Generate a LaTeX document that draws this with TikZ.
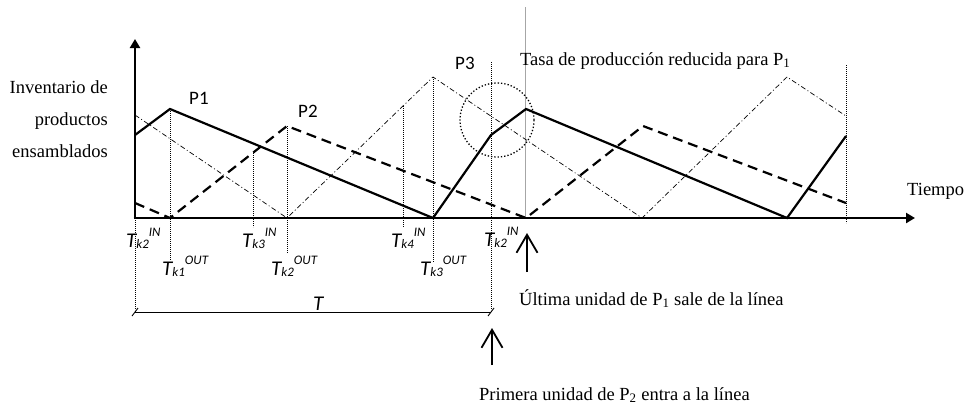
\documentclass[tikz,border=0pt]{standalone}
\usepackage{fontspec}
\setmainfont{Liberation Serif}
\newfontfamily\calibri{Carlito}
\usetikzlibrary{arrows.meta}
\newcommand\mytlab[2]{{\calibri\itshape\fontsize{21}{22}\selectfont T}{\calibri\itshape\fontsize{13}{13}\selectfont\raisebox{-1pt}{#1}\raisebox{11pt}{#2}}}
\begin{document}
\begin{tikzpicture}[x=1pt,y=-1pt,
  axisline/.style={line width=2.6pt},
  prodA/.style={line width=2.2pt, line join=miter},
  prodB/.style={line width=2.2pt, dash pattern=on 10pt off 6pt},
  prodC/.style={line width=0.7pt, dash pattern=on 5pt off 2.5pt on 1pt off 2.5pt},
  guide/.style={line width=0.7pt, dash pattern=on 0.8pt off 1.2pt},
  grayguide/.style={line width=1pt, gray!70},
  ring/.style={line width=1.3pt, dash pattern=on 1.3pt off 2pt},
  brace/.style={line width=0.9pt},
  pointer/.style={line width=1.8pt, -{Straight Barb[length=18pt,width=21pt]}},
  serif/.style={font=\fontsize{18.5}{22}\selectfont, inner sep=0pt},
  plab/.style={font=\calibri\fontsize{19}{22}\selectfont, inner sep=0pt, anchor=base west},
  tl/.style={inner sep=0pt, anchor=base west}]
\useasboundingbox (0,0) rectangle (965,407);

% key coordinates
\coordinate (O) at (135,218);
\coordinate (Ytop) at (135,39);
\coordinate (Xend) at (915,218);

% guides
\draw[guide] (135,218) -- (135,310);
\draw[guide] (170,109) -- (170,260);
\draw[guide] (253,153) -- (253,227);
\draw[guide] (287,126) -- (287,253);
\draw[guide] (403,106) -- (403,227);
\draw[guide] (433,77) -- (433,262);
\draw[guide] (491,62) -- (491,310);
\draw[guide] (846,65) -- (846,223);
\draw[grayguide] (525,7) -- (525,218);

% products
\draw[prodC] (135,115) -- (287,218) -- (433,77) -- (642,218) -- (787,77) -- (846,116);
\draw[prodB] (135,203) -- (170,218) -- (287,126) -- (526,218) -- (643,126) -- (846,203);
\draw[prodA] (135,135) -- (170,109) -- (433,218) -- (491,135) -- (526,109) -- (787,218) -- (846,136);

% axes
\draw[axisline, -{Triangle[length=9pt,width=10pt]}] (O) -- (Ytop);
\draw[axisline, -{Triangle[length=9pt,width=10pt]}] ([xshift=-1.3pt]O) -- (Xend);

% circle
\node[ring, draw, circle, minimum size=74pt, inner sep=0pt] (circ) at (497,120) {};

% T bracket
\coordinate (Ta) at (135,312);
\coordinate (Tb) at (491,312);
\draw[brace] (Ta) -- (Tb);
\draw[brace] ([shift={(-3,4)}]Ta) -- ([shift={(3,-4)}]Ta);
\draw[brace] ([shift={(-3,4)}]Tb) -- ([shift={(3,-4)}]Tb);
\node[tl, font=\calibri\itshape\fontsize{21}{22}\selectfont] (Tlabel) at (313,310) {T};

% pointer arrows
\coordinate (a1s) at (527,272);
\coordinate (a1e) at (527,233);
\coordinate (a2s) at (492,365);
\coordinate (a2e) at (492,328);
\draw[pointer] (a1s) -- (a1e);
\draw[pointer] (a2s) -- (a2e);

% labels
\node[serif, anchor=base east] (inv1) at (108,93) {Inventario de};
\node[serif, anchor=base east] (inv2) at (108,125) {productos};
\node[serif, anchor=base east] (inv3) at (108,157) {ensamblados};
\node[serif, anchor=base west] (tiempo) at (907,195) {Tiempo};
\node[serif, anchor=base west] (tasa) at (520,65) {Tasa de producción reducida para P\textsubscript{1}};
\node[serif, anchor=base west] (ultima) at (519,305) {Última unidad de P\textsubscript{1} sale de la línea};
\node[serif, anchor=base west] (primera) at (479,400) {Primera unidad de P\textsubscript{2} entra a la línea};

\node[plab] (p1) at (189,104) {P1};
\node[plab] (p2) at (298,117) {P2};
\node[plab] (p3) at (455,69) {P3};

\node[tl] (t1) at (126,247) {\mytlab{k2}{IN}};
\node[tl] (t2) at (242,247) {\mytlab{k3}{IN}};
\node[tl] (t3) at (391,247) {\mytlab{k4}{IN}};
\node[tl] (t4) at (484,246) {\mytlab{k2}{IN}};
\node[tl] (t5) at (162,275) {\mytlab{k1}{OUT}};
\node[tl] (t6) at (271,275) {\mytlab{k2}{OUT}};
\node[tl] (t7) at (420,275) {\mytlab{k3}{OUT}};
\end{tikzpicture}
\end{document}
